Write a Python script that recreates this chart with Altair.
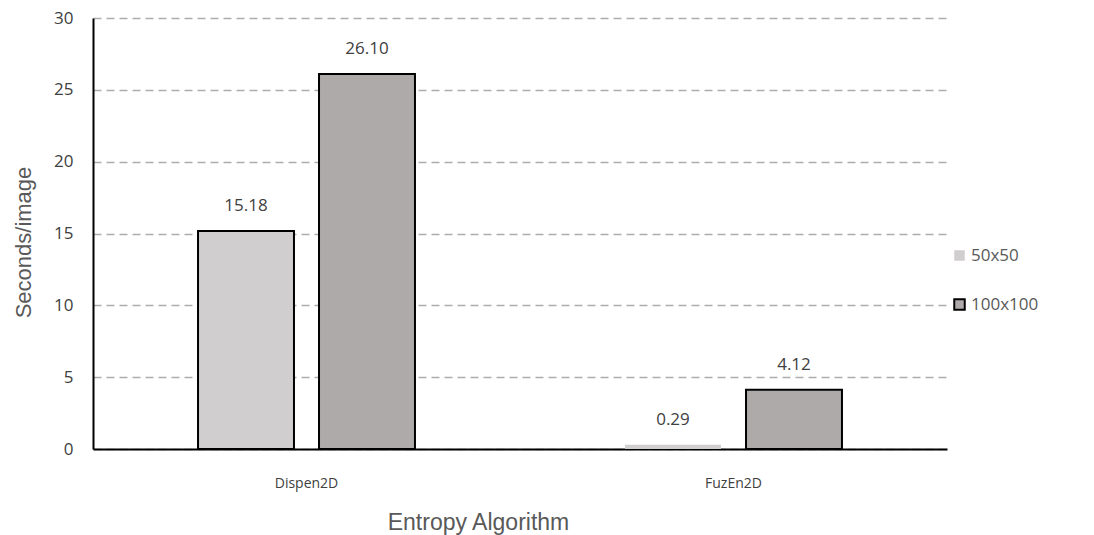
import altair as alt
import pandas as pd

algorithms = ["Dispen2D", "Dispen2D", "FuzEn2D", "FuzEn2D"]
image_sizes = ["50x50", "100x100", "50x50", "100x100"]
seconds = [15.18, 26.10, 0.29, 4.12]

algo_order = ["Dispen2D", "FuzEn2D"]
size_order = ["50x50", "100x100"]
fill_colors = ["#D0CECE", "#AEAAAA"]
edge_colors = ["transparent", "#000000"]

df = pd.DataFrame({"algo": algorithms, "size": image_sizes, "secs": seconds})

font_labels = "Open Sans"
font_titles = "Liberation Sans"

x_enc = alt.X(
    "algo:N",
    sort=algo_order,
    scale=alt.Scale(paddingInner=0, paddingOuter=0),
    axis=alt.Axis(
        title="Entropy Algorithm",
        labelAngle=0,
        labelFont=font_labels,
        labelFontSize=14,
        labelColor="#404040",
        labelPadding=27,
        ticks=False,
        grid=False,
        domainColor="#000000",
        domainWidth=2,
        titleFont=font_titles,
        titleFontSize=23,
        titleFontWeight="normal",
        titleColor="#595959",
        titleX=385,
        titleY=73,
        titleBaseline="middle",
        titleAlign="center",
    ),
)
xoff_enc = alt.XOffset(
    "size:N", sort=size_order, scale=alt.Scale(paddingInner=0.207, paddingOuter=0.868)
)
y_enc = alt.Y(
    "secs:Q",
    scale=alt.Scale(domain=[0, 30], nice=False),
    axis=alt.Axis(
        title="Seconds/image",
        values=[0, 5, 10, 15, 20, 25, 30],
        labelFont=font_labels,
        labelFontSize=17,
        labelColor="#404040",
        labelPadding=20,
        ticks=False,
        domainColor="#000000",
        domainWidth=2,
        grid=True,
        gridColor="#ADADAD",
        gridDash=[8, 5],
        gridWidth=1.3,
        titleFont=font_titles,
        titleFontSize=22,
        titleFontWeight="normal",
        titleColor="#595959",
        titleX=-70,
        titleY=224,
        titleAngle=-90,
        titleAlign="center",
        titleBaseline="middle",
    ),
)

bars = alt.Chart(df).mark_bar(strokeWidth=2).encode(
    x=x_enc,
    xOffset=xoff_enc,
    y=y_enc,
    fill=alt.Fill(
        "size:N",
        sort=size_order,
        scale=alt.Scale(domain=size_order, range=fill_colors),
        legend=alt.Legend(
            title=None,
            orient="none",
            legendX=858,
            legendY=229,
            symbolType="square",
            symbolSize=110,
            symbolStrokeWidth=2,
            labelFont=font_labels,
            labelFontSize=17,
            labelColor="#595959",
            rowPadding=30,
            labelOffset=3,
        ),
    ),
    stroke=alt.condition(
        alt.datum.algo == "Dispen2D",
        alt.value("#000000"),
        alt.Stroke(
            "size:N",
            sort=size_order,
            scale=alt.Scale(domain=size_order, range=edge_colors),
        ),
    ),
)

labels = alt.Chart(df).mark_text(
    baseline="middle",
    dy=-25,
    font=font_labels,
    fontSize=17,
    color="#404040",
).encode(
    x=alt.X("algo:N", sort=algo_order),
    xOffset=alt.XOffset("size:N", sort=size_order),
    y="secs:Q",
    text=alt.Text("secs:Q", format=".2f"),
)

chart = (
    alt.layer(bars, labels)
    .properties(
        width=854,
        height=431,
        background="#FFFFFF",
        autosize=alt.AutoSizeParams(type="none"),
        padding={"left": 93, "top": 18, "right": 147, "bottom": 86},
    )
    .configure_view(stroke="transparent", strokeWidth=0)
)

chart.save("out.html", embed_options={"renderer": "svg", "actions": False})
